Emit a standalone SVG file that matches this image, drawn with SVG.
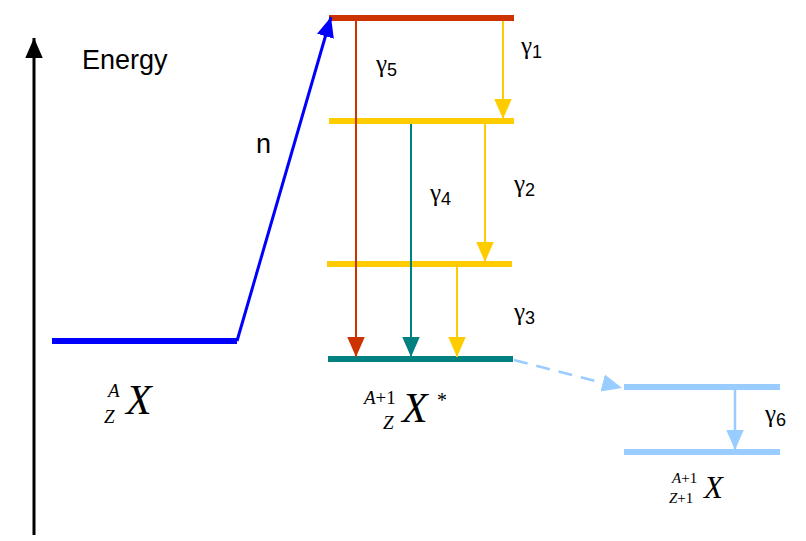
<svg xmlns="http://www.w3.org/2000/svg" width="806" height="541" viewBox="0 0 806 541">
<defs>
<style>
.lvl{stroke-width:6;fill:none}
.lab{font-family:"Liberation Sans",Arial,sans-serif;font-size:27px;fill:#000}
.g{font-family:"Liberation Serif","Times New Roman",serif;font-size:25px;fill:#000}
.gs{font-family:"Liberation Sans",Arial,sans-serif;font-size:18px}
.nuc{font-family:"Liberation Serif","Times New Roman",serif;fill:#000}
.it{font-style:italic}
</style>
<marker id="mk" markerUnits="userSpaceOnUse" markerWidth="20" markerHeight="20" viewBox="0 0 16 14" refX="16" refY="7" orient="auto"><path d="M0,0 L16,7 L0,14 z" fill="#000"/></marker>
<marker id="mb" markerUnits="userSpaceOnUse" markerWidth="20" markerHeight="20" viewBox="0 0 16 14" refX="16" refY="7" orient="auto"><path d="M0,0 L16,7 L0,14 z" fill="#0000ff"/></marker>
<marker id="mr" markerUnits="userSpaceOnUse" markerWidth="20" markerHeight="20" viewBox="0 0 16 14" refX="16" refY="7" orient="auto"><path d="M0,0 L16,7 L0,14 z" fill="#cc3300"/></marker>
<marker id="my" markerUnits="userSpaceOnUse" markerWidth="20" markerHeight="20" viewBox="0 0 16 14" refX="16" refY="7" orient="auto"><path d="M0,0 L16,7 L0,14 z" fill="#ffcc00"/></marker>
<marker id="mt" markerUnits="userSpaceOnUse" markerWidth="20" markerHeight="20" viewBox="0 0 16 14" refX="16" refY="7" orient="auto"><path d="M0,0 L16,7 L0,14 z" fill="#008080"/></marker>
<marker id="ml" markerUnits="userSpaceOnUse" markerWidth="20" markerHeight="20" viewBox="0 0 16 14" refX="16" refY="7" orient="auto"><path d="M0,0 L16,7 L0,14 z" fill="#99ccff"/></marker>
</defs>
<rect width="806" height="541" fill="#fff"/>

<g id="axis">
<line x1="34" y1="535" x2="34" y2="38" stroke="#000" stroke-width="3" marker-end="url(#mk)"/>
<text class="lab" x="82" y="69">Energy</text>
</g>

<g id="ground">
<line class="lvl" x1="52" y1="341" x2="237" y2="341" stroke="#0000ff"/>
<text class="nuc it" x="108" y="397" font-size="19">A</text>
<text class="nuc it" x="104" y="423" font-size="19">Z</text>
<text class="nuc it" x="126" y="414" font-size="42">X</text>
</g>

<g id="level-top"><line class="lvl" x1="329" y1="18" x2="514" y2="18" stroke="#cc3300"/></g>
<g id="level-2"><line class="lvl" x1="329" y1="121" x2="514" y2="121" stroke="#ffcc00"/></g>
<g id="level-3"><line class="lvl" x1="327" y1="264" x2="512" y2="264" stroke="#ffcc00"/></g>
<g id="level-excited">
<line class="lvl" x1="328" y1="359" x2="513" y2="359" stroke="#008080"/>
<text class="nuc" x="364" y="404" font-size="19"><tspan class="it">A</tspan>+1</text>
<text class="nuc it" x="383" y="429" font-size="19">Z</text>
<text class="nuc it" x="402" y="422" font-size="42">X</text>
<text class="nuc" x="437" y="407" font-size="20">*</text>
</g>

<g id="level-product-upper"><line class="lvl" x1="624" y1="387" x2="780" y2="387" stroke="#99ccff"/></g>
<g id="level-product-lower">
<line class="lvl" x1="624" y1="452" x2="780" y2="452" stroke="#99ccff"/>
<text class="nuc" x="672" y="483" font-size="15"><tspan class="it">A</tspan>+1</text>
<text class="nuc" x="669" y="503" font-size="15"><tspan class="it">Z</tspan>+1</text>
<text class="nuc it" x="704" y="498" font-size="31">X</text>
</g>

<g id="connectors">
<line x1="237" y1="341" x2="331" y2="17" stroke="#0000ff" stroke-width="3" marker-end="url(#mb)"/>
<line x1="356" y1="21" x2="356" y2="357" stroke="#cc3300" stroke-width="2" marker-end="url(#mr)"/>
<line x1="503" y1="21" x2="503" y2="119" stroke="#ffcc00" stroke-width="2" marker-end="url(#my)"/>
<line x1="411" y1="124" x2="411" y2="357" stroke="#008080" stroke-width="2" marker-end="url(#mt)"/>
<line x1="485" y1="124" x2="485" y2="262" stroke="#ffcc00" stroke-width="2" marker-end="url(#my)"/>
<line x1="457" y1="267" x2="457" y2="357" stroke="#ffcc00" stroke-width="2" marker-end="url(#my)"/>
<line x1="514" y1="360" x2="622" y2="388" stroke="#99ccff" stroke-width="2.5" stroke-dasharray="14,9" marker-end="url(#ml)"/>
<line x1="735" y1="390" x2="735" y2="450" stroke="#99ccff" stroke-width="2.5" marker-end="url(#ml)"/>
</g>

<g id="labels">
<text class="lab" x="256" y="153">n</text>
<text class="g" x="376" y="72">γ<tspan class="gs" dy="4">5</tspan></text>
<text class="g" x="521" y="54">γ<tspan class="gs" dy="4">1</tspan></text>
<text class="g" x="430" y="201">γ<tspan class="gs" dy="4">4</tspan></text>
<text class="g" x="514" y="192">γ<tspan class="gs" dy="4">2</tspan></text>
<text class="g" x="514" y="320">γ<tspan class="gs" dy="4">3</tspan></text>
<text class="g" x="765" y="422">γ<tspan class="gs" dy="4">6</tspan></text>
</g>
</svg>
